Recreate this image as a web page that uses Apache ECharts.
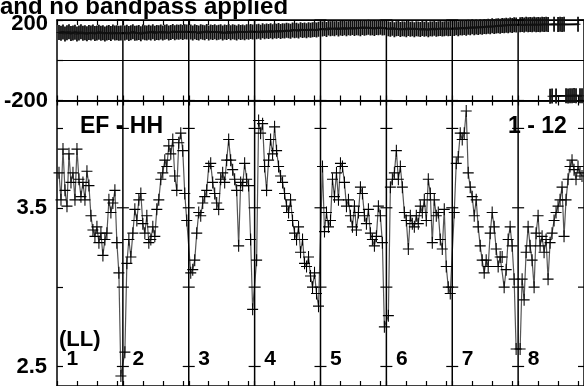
<!DOCTYPE html>
<html><head><meta charset="utf-8">
<script src="https://cdn.jsdelivr.net/npm/echarts@6/dist/echarts.min.js"></script>
<style>html,body{margin:0;padding:0;background:#fff}#c{width:584px;height:386px}</style>
</head><body><div id="c"></div><script>
// ---- texts ----
const titleText = 'and no bandpass applied';
const baselineText = 'EF - HH';
const timeText = '1 - 12';
const polText = '(LL)';
const ifLabels = ['1','2','3','4','5','6','7','8'];

// ---- axes ----
const ifWidth = 33;               // channel slots per IF (32 channels + gap)
const nIF = 8;
const channelTickOffsets = [0, 10, 20, 30];
const phaseTickValues = [-200, 0, 200];
const phaseLabelValues = [-200, 200];
const ampTickValues = [2.5, 3.0, 3.5, 4.0];
const ampLabelValues = [2.5, 3.5];

// ---- amplitude per IF (32 channels each) ----
const ampIF1 = [3.72,3.55,3.87,3.61,3.51,3.84,3.66,3.72,3.55,3.87,3.68,3.57,3.66,3.55,3.73,3.64,3.45,3.36,3.32,3.38,3.28,3.34,3.20,3.30,3.34,3.55,3.47,3.53,3.61,3.28,3.09,2.44];
const ampIF2 = [2.59,3.15,3.30,3.19,3.34,3.49,3.42,3.55,3.59,3.40,3.34,3.45,3.28,3.30,3.38,3.32,3.49,3.55,3.68,3.72,3.80,3.76,3.89,3.84,3.93,3.70,3.61,3.91,3.97,3.86,3.59,3.42];
const ampIF3 = [3.09,3.11,3.17,3.34,3.47,3.45,3.53,3.57,3.61,3.76,3.78,3.66,3.59,3.53,3.49,3.68,3.72,3.66,3.80,3.93,3.80,3.74,3.68,3.61,3.26,3.66,3.64,3.78,3.68,3.64,3.30,2.86];
const ampIF4 = [3.17,4.05,3.97,4.03,3.76,3.61,3.80,3.93,3.84,4.01,3.86,3.76,3.70,3.66,3.59,3.51,3.47,3.55,3.42,3.34,3.30,3.38,3.22,3.30,3.15,3.13,3.19,3.07,3.00,3.09,2.96,2.88];
const ampIF5 = [3.76,3.35,3.47,3.38,3.42,3.68,3.57,3.72,3.55,3.78,3.76,3.66,3.51,3.55,3.45,3.38,3.51,3.36,3.47,3.63,3.59,3.45,3.40,3.49,3.34,3.30,3.26,3.32,3.51,3.45,3.28,2.75];
const ampIF6 = [2.82,3.63,3.68,3.72,3.86,3.68,3.76,3.63,3.47,3.42,3.24,3.45,3.40,3.38,3.45,3.40,3.51,3.47,3.55,3.42,3.68,3.59,3.28,3.55,3.45,3.47,3.30,3.24,3.49,3.13,3.00,2.96];
const ampIF7 = [3.47,3.78,3.82,3.97,3.93,3.97,4.11,3.72,3.63,3.57,3.45,3.55,3.38,3.26,3.17,3.09,3.17,3.13,3.34,3.47,3.38,3.24,3.13,3.19,3.19,3.00,3.11,3.30,3.38,3.26,3.05,2.61];
const ampIF8 = [2.61,3.05,2.92,3.22,3.38,3.26,3.17,3.00,3.34,3.45,3.26,3.32,3.22,3.30,3.05,3.28,3.34,3.42,3.47,3.51,3.55,3.63,3.32,3.55,3.68,3.76,3.80,3.74,3.68,3.76,3.72,3.70];

// ---- phase (deg) per IF ----
const phaseIF1 = [138,134,140,131,137,142,133,136,139,130,135,141,134,137,132,138,136,140,133,135,139,134,137,131,136,138,133,140,135,137,134,136];
const phaseIF2 = [135,139,133,137,141,134,136,138,132,140,137,135,139,136,142,134,138,137,140,135,139,141,136,138,143,137,140,139,142,138,141,140];
const phaseIF3 = [140,136,141,138,135,142,139,137,143,136,140,138,141,137,139,142,136,140,138,143,137,141,139,136,142,138,140,137,141,139,143,140];
const phaseIF4 = [141,144,139,146,142,145,143,147,141,146,144,148,143,147,145,149,146,144,150,147,149,145,151,148,150,147,152,149,151,153,150,154];
const phaseIF5 = [155,158,153,160,156,159,157,161,155,160,158,162,157,161,159,163,158,162,160,157,163,159,161,164,160,162,158,163,161,164,160,162];
const phaseIF6 = [157,154,159,152,156,158,153,157,155,151,158,154,156,152,157,155,153,158,154,156,152,157,155,159,154,156,158,155,157,159,156,158];
const phaseIF7 = [158,161,157,162,160,163,159,164,161,166,162,165,163,167,164,168,166,169,167,171,168,170,172,169,173,171,174,172,175,173,176,175];
const phaseIF8 = [176,178,175,179,177,178,176,179,177,178,177,179,178,179,178,-179,-178,179,-178,178,179,178,179,-177,-178,-176,-177,-175,-176,179,-176,-177];

const ampByIF = [ampIF1,ampIF2,ampIF3,ampIF4,ampIF5,ampIF6,ampIF7,ampIF8];
const phaseByIF = [phaseIF1,phaseIF2,phaseIF3,phaseIF4,phaseIF5,phaseIF6,phaseIF7,phaseIF8];

function chanX(i, c) { return i * ifWidth + c + 1; }
const ampData = [], phaseData = [];
ampByIF.forEach((arr, i) => arr.forEach((v, c) => ampData.push([chanX(i, c), v])));
phaseByIF.forEach((arr, i) => arr.forEach((v, c) => phaseData.push([chanX(i, c), v])));
const phaseTop = phaseData.filter(p => p[1] >= 0);
const phaseBot = phaseData.filter(p => p[1] < 0);

const xTicks = [];
for (let k = 0; k <= nIF; k++) channelTickOffsets.forEach(o => xTicks.push(k * ifWidth + o));

const X_MAX = nIF * ifWidth;
const PH_MIN = -200, PH_MAX = 200;
const AMP_MIN = 2.377, AMP_MAX = 4.176;
const FONT = '"Liberation Sans", Arial, Helvetica, sans-serif';

function xAxisDef(gridIndex, position) {
  return {
    type: 'value', gridIndex, position, min: 0, max: X_MAX,
    axisLine: { show: true, onZero: false, lineStyle: { color: '#000', width: 1.5 } },
    axisTick: { show: true, inside: true, length: 5, customValues: xTicks, lineStyle: { color: '#000', width: 1.2 } },
    axisLabel: { show: false }, splitLine: { show: false }
  };
}

function frameSeries(xIdx, yIdx, yMin, yMax, tickVals, withLabels) {
  const data = [];
  for (let k = 0; k <= nIF; k++) data.push([k * ifWidth, k]);
  return {
    type: 'custom', xAxisIndex: xIdx, yAxisIndex: yIdx, silent: true, z: 6, clip: false,
    data,
    renderItem(params, api) {
      const xv = api.value(0), k = api.value(1);
      const children = [];
      if (k > 0) {
        const t = api.coord([xv, yMax]), b = api.coord([xv, yMin]);
        children.push({ type: 'line', shape: { x1: t[0], y1: t[1], x2: b[0], y2: b[1] }, style: { stroke: '#000', lineWidth: 1.5 } });
        tickVals.forEach(v => {
          const p = api.coord([xv, v]);
          children.push({ type: 'line', shape: { x1: p[0] - 6, y1: p[1], x2: p[0] + 6, y2: p[1] }, style: { stroke: '#000', lineWidth: 1.2 } });
        });
      }
      if (withLabels && k < nIF) {
        const p = api.coord([xv, ampLabelValues[0]]);
        children.push({ type: 'text', x: p[0] + 9.5, y: p[1] - 7, style: { text: ifLabels[k], font: 'bold 21px ' + FONT, fill: '#000', align: 'left', verticalAlign: 'middle' } });
      }
      return { type: 'group', children };
    }
  };
}

const plusAmp = 'path://M0,6H12M6,0V12';
// filled plus for phase: thin horizontal arm, thicker vertical error bar
const plusPh = 'path://M0,6.6H5V7.4H0Z M1.6,0H3.4V14H1.6Z';

const labelRich = {
  hi: { fontSize: 22, fontWeight: 'bold', fontFamily: FONT, color: '#000', padding: [7, 0, 0, 0] },
  lo: { fontSize: 22, fontWeight: 'bold', fontFamily: FONT, color: '#000' }
};

const chart = echarts.init(document.getElementById('c'), null, { renderer: 'canvas' });
chart.setOption({
  animation: false,
  backgroundColor: '#fff',
  grid: [
    { left: 57, top: 20, width: 531.5, height: 80.5 },
    { left: 57, top: 100.5, width: 531.5, height: 286 }
  ],
  xAxis: [xAxisDef(0, 'bottom'), xAxisDef(0, 'top'), xAxisDef(1, 'bottom'), xAxisDef(1, 'top')],
  yAxis: [
    {
      type: 'value', gridIndex: 0, min: PH_MIN, max: PH_MAX, interval: 200,
      axisLine: { show: true, lineStyle: { color: '#000', width: 1.5 } },
      axisTick: { show: true, inside: true, length: 6, lineStyle: { color: '#000', width: 1.2 } },
      axisLabel: { customValues: phaseLabelValues, color: '#000', fontSize: 22, fontWeight: 'bold', fontFamily: FONT, margin: 9,
        formatter: v => (v > 0 ? '{hi|' + v + '}' : '{lo|' + v + '}'), rich: labelRich },
      splitLine: { show: true, lineStyle: { color: '#000', width: 1.2 } }
    },
    {
      type: 'value', gridIndex: 1, min: AMP_MIN, max: AMP_MAX,
      axisLine: { show: true, lineStyle: { color: '#000', width: 1.5 } },
      axisTick: { show: true, inside: true, length: 6, customValues: ampTickValues, lineStyle: { color: '#000', width: 1.2 } },
      axisLabel: { customValues: ampLabelValues, color: '#000', fontSize: 22, fontWeight: 'bold', fontFamily: FONT, margin: 10 },
      splitLine: { show: false }
    }
  ],
  series: [
    { type: 'line', xAxisIndex: 0, yAxisIndex: 0, data: phaseTop, symbol: 'none', lineStyle: { color: '#000', width: 2 }, z: 2, silent: true },
    { type: 'line', xAxisIndex: 0, yAxisIndex: 0, data: phaseBot, symbol: 'none', lineStyle: { color: '#000', width: 2 }, z: 2, silent: true },
    { type: 'scatter', xAxisIndex: 0, yAxisIndex: 0, data: phaseData, symbol: plusPh, symbolSize: [5, 15], symbolKeepAspect: false,
      itemStyle: { color: '#111', opacity: 1 }, z: 3, silent: true },
    { type: 'line', xAxisIndex: 2, yAxisIndex: 1, data: ampData, symbol: 'none', lineStyle: { color: '#555', width: 1.2 }, z: 2, silent: true },
    { type: 'scatter', xAxisIndex: 2, yAxisIndex: 1, data: ampData, symbol: plusAmp, symbolSize: [11, 12], symbolKeepAspect: false,
      itemStyle: { color: 'none', borderColor: '#000', borderWidth: 1.1, opacity: 1 }, z: 3, silent: true },
    frameSeries(0, 0, PH_MIN, PH_MAX, phaseLabelValues, false),
    frameSeries(2, 1, AMP_MIN, AMP_MAX, ampTickValues, true)
  ],
  graphic: [
    { type: 'text', x: 0, y: 7, style: { text: titleText, font: 'bold 24px ' + FONT, fill: '#000', align: 'left', verticalAlign: 'middle' } },
    { type: 'text', x: 80, y: 127, style: { text: baselineText, font: 'bold 23px ' + FONT, fill: '#000', align: 'left', verticalAlign: 'middle' }, z: 10 },
    { type: 'text', x: 508, y: 126.5, style: { text: timeText, font: 'bold 23px ' + FONT, fill: '#000', align: 'left', verticalAlign: 'middle' }, z: 10 },
    { type: 'text', x: 59, y: 339.5, style: { text: polText, font: 'bold 22px ' + FONT, fill: '#000', align: 'left', verticalAlign: 'middle' }, z: 10 }
  ]
});
</script></body></html>
